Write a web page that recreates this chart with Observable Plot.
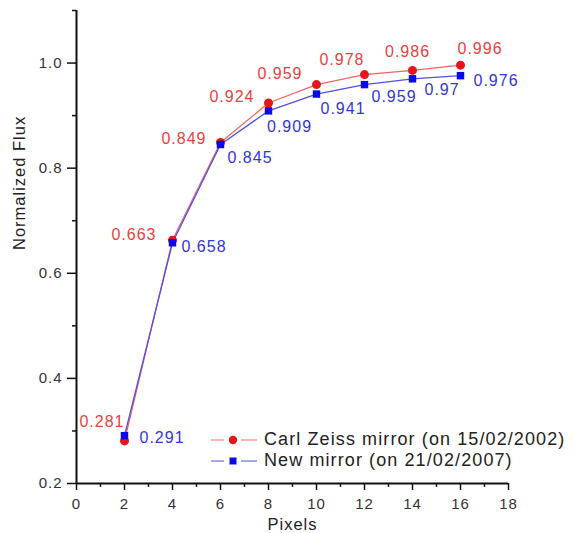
<!DOCTYPE html>
<html>
<head>
<meta charset="utf-8">
<script src="https://cdn.jsdelivr.net/npm/d3@7"></script>
<script src="https://cdn.jsdelivr.net/npm/@observablehq/plot@0.6"></script>
<style>
  body { margin: 0; background: #fff; }
  #wrap { position: relative; width: 573px; height: 533px; font-family: "Liberation Sans", Arial, sans-serif; }
  #legend { position: absolute; left: 210px; top: 429px; font-size: 18px; letter-spacing: 1.1px; color: #222; line-height: 21px; }
  #legend .row { display: flex; align-items: center; white-space: nowrap; }
  #legend svg { margin-right: 4px; }
</style>
</head>
<body>
<div id="wrap"></div>
<script>
// ---- data ----
const pixels = [2, 4, 6, 8, 10, 12, 14, 16];
const zeissFlux = [0.281, 0.663, 0.849, 0.924, 0.959, 0.978, 0.986, 0.996];
const newFlux = [0.291, 0.658, 0.845, 0.909, 0.941, 0.959, 0.97, 0.976];
const seriesNames = ["Carl Zeiss mirror (on 15/02/2002)", "New mirror (on 21/02/2007)"];
const xMajorTicks = [0, 2, 4, 6, 8, 10, 12, 14, 16, 18];
const xMinorTicks = [1, 3, 5, 7, 9, 11, 13, 15, 17];
const yMajorTicks = [0.2, 0.4, 0.6, 0.8, 1.0];
const yMinorTicks = [0.3, 0.5, 0.7, 0.9, 1.1];

// ---- label placement styles (dx, dy, anchor) ----
const zeissLabelStyle = [[0,-19,"end"],[-16,-5,"end"],[-14,-4,"end"],[-14,-6,"end"],[-14,-11,"end"],[0,-15,"end"],[-5,-19,"middle"],[-3,-16,"start"]];
const newLabelStyle = [[15,2,"start"],[9,4,"start"],[7,13,"start"],[21,16,"middle"],[4,15,"start"],[7,12,"start"],[12,11,"start"],[13,5,"start"]];

const red = "#e8141c", redLine = "#f06464", redText = "#e5423f";
const blue = "#0a0ae6", blueLine = "#5050dc", blueText = "#3434d8";

const zeiss = pixels.map((p, i) => ({x: p, y: zeissFlux[i], i}));
const nw = pixels.map((p, i) => ({x: p, y: newFlux[i], i}));

const labelMarks = [];
zeiss.forEach((d, i) => {
  const [dx, dy, ta] = zeissLabelStyle[i];
  labelMarks.push(Plot.text([d], {x: "x", y: "y", text: d => String(d.y), dx, dy, textAnchor: ta, fill: redText, fontSize: 16}));
});
nw.forEach((d, i) => {
  const [dx, dy, ta] = newLabelStyle[i];
  labelMarks.push(Plot.text([d], {x: "x", y: "y", text: d => String(d.y), dx, dy, textAnchor: ta, fill: blueText, fontSize: 16}));
});

const chart = Plot.plot({
  width: 573,
  height: 533,
  marginLeft: 76,
  marginRight: 65,
  marginTop: 10,
  marginBottom: 50,
  style: {fontFamily: "'Liberation Sans', Arial, sans-serif", letterSpacing: "1px", background: "#fff", overflow: "visible"},
  x: {domain: [0, 18]},
  y: {domain: [0.2, 1.1]},
  marks: [
    Plot.axisX(xMajorTicks, {tickSize: 7, tickPadding: 8, tickFormat: d3.format("d"), fontSize: 15, label: null, fill: "#333", strokeWidth: 1.5, stroke: "#111"}),
    Plot.axisX(xMinorTicks, {tickSize: 4, tickFormat: () => "", label: null, strokeWidth: 1.5, stroke: "#111"}),
    Plot.axisY(yMajorTicks, {tickSize: 9, tickPadding: 5, tickFormat: d3.format(".1f"), fontSize: 15, label: null, fill: "#333", strokeWidth: 1.5, stroke: "#111"}),
    Plot.axisY(yMinorTicks, {tickSize: 4, tickFormat: () => "", label: null, strokeWidth: 1.5, stroke: "#111"}),
    Plot.ruleX([0], {stroke: "#111", strokeWidth: 2}),
    Plot.ruleY([0.2], {stroke: "#111", strokeWidth: 2}),
    Plot.text(["Pixels"], {frameAnchor: "bottom", dy: 46, text: d => d, fontSize: 16.5, fill: "#222"}),
    Plot.text(["Normalized Flux"], {frameAnchor: "left", rotate: -90, dx: -57, dy: 3, text: d => d, fontSize: 16.5, fill: "#222"}),
    Plot.line(zeiss, {x: "x", y: "y", stroke: redLine, strokeWidth: 1.3}),
    Plot.line(nw, {x: "x", y: "y", stroke: blueLine, strokeWidth: 1.3}),
    Plot.dot(zeiss, {x: "x", y: "y", r: 4.5, fill: red, stroke: "none"}),
    Plot.dot(nw, {x: "x", y: "y", r: 4.2, symbol: "square", fill: blue, stroke: "none"}),
    ...labelMarks
  ]
});

const wrap = document.getElementById("wrap");
wrap.appendChild(chart);

const legend = document.createElement("div");
legend.id = "legend";
legend.innerHTML = `
  <div class="row"><svg width="50" height="14"><line x1="1" x2="14" y1="7" y2="7" stroke="#f59a9a" stroke-width="1.5"/><line x1="31" x2="47" y1="7" y2="7" stroke="#f59a9a" stroke-width="1.5"/><circle cx="23" cy="7" r="4.2" fill="${red}"/></svg><span>${seriesNames[0]}</span></div>
  <div class="row"><svg width="50" height="14"><line x1="1" x2="14" y1="7" y2="7" stroke="#8a8ae6" stroke-width="1.5"/><line x1="31" x2="47" y1="7" y2="7" stroke="#8a8ae6" stroke-width="1.5"/><rect x="19.5" y="3.5" width="7" height="7" fill="${blue}"/></svg><span>${seriesNames[1]}</span></div>`;
wrap.appendChild(legend);
</script>
</body>
</html>
